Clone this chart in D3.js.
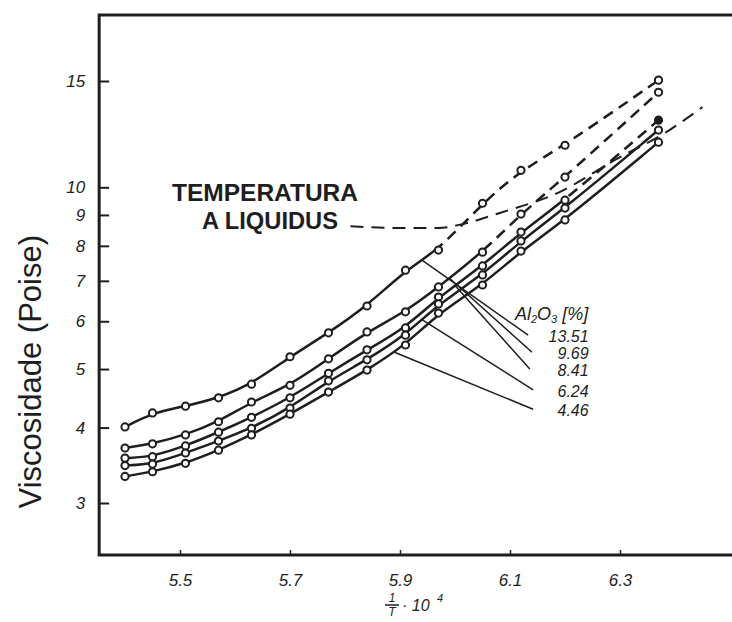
<!DOCTYPE html>
<html>
<head>
<meta charset="utf-8">
<script src="https://cdn.jsdelivr.net/npm/d3@7"></script>
<style>
  body { margin: 0; background: #fff; }
  text { font-family: "Liberation Sans", Arial, sans-serif; fill: #1e1e1e; }
</style>
</head>
<body>
<div id="chart"></div>
<script>
// 1/T * 10^4 for the measured points
const invT = [5.40, 5.45, 5.51, 5.57, 5.63, 5.70, 5.77, 5.84, 5.91, 5.97, 6.05, 6.12, 6.20, 6.37];

// viscosity (Poise), one array per Al2O3 content
const visc1351 = [4.01, 4.23, 4.34, 4.48, 4.72, 5.24, 5.74, 6.36, 7.29, 7.87, 9.41, 10.67, 11.74, 15.05];
const visc969  = [3.70, 3.76, 3.89, 4.09, 4.41, 4.70, 5.20, 5.76, 6.22, 6.84, 7.81, 9.03, 10.40, 14.37];
const visc841  = [3.56, 3.58, 3.73, 3.93, 4.16, 4.48, 4.92, 5.38, 5.85, 6.58, 7.41, 8.43, 9.52, 12.92];
const visc624  = [3.46, 3.48, 3.63, 3.80, 3.99, 4.31, 4.78, 5.18, 5.69, 6.41, 7.16, 8.15, 9.24, 12.44];
const visc446  = [3.32, 3.38, 3.49, 3.67, 3.89, 4.21, 4.58, 4.98, 5.48, 6.19, 6.89, 7.84, 8.83, 11.88];

const aluminaLabels = ['13.51', '9.69', '8.41', '6.24', '4.46'];
const seriesValues = [visc1351, visc969, visc841, visc624, visc446];
// from which 1/T the extrapolated part is dashed (null = all solid)
const dashFrom = [5.97, 6.05, 6.20, null, null];

// liquidus temperature line
const liquidusX = [5.81, 5.90, 5.97, 6.02, 6.08, 6.19, 6.29, 6.39, 6.45];
const liquidusY = [8.62, 8.56, 8.56, 8.72, 9.06, 9.82, 11.09, 12.44, 13.58];

// leader lines: start on curve at 1/T, end near the label
const leaderFromX = [5.94, 5.99, 6.00, 5.94, 5.89];
const leaderToX = [6.133, 6.140, 6.136, 6.142, 6.142];
const leaderToY = [5.69, 5.33, 5.00, 4.62, 4.29];

const xTicks = [5.5, 5.7, 5.9, 6.1, 6.3];
const yTicks = [3, 4, 5, 6, 7, 8, 9, 10, 15];

const width = 732, height = 622;
const ink = '#1e1e1e';

const x = d3.scaleLinear().domain([5.5, 6.3]).range([180, 620]);
const y = d3.scaleLog().domain([3, 15]).range([503, 81]);

// frame limits in data units
const xMin = 5.353, xMax = 6.53;
const yMin = 2.46, yMax = 19.3;

const svg = d3.select('#chart')
  .append('svg')
  .attr('width', width)
  .attr('height', height)
  .attr('viewBox', `0 0 ${width} ${height}`);

const defs = svg.append('defs');

// frame: left axis, top and bottom lines (right side runs off the page)
svg.append('path')
  .attr('fill', 'none')
  .attr('stroke', ink)
  .attr('stroke-width', 3)
  .attr('d', `M${x(xMax)},${y(yMax)}H${x(xMin)}V${y(yMin)}H${x(xMax)}`);

// Y axis ticks + labels
const yAxis = svg.append('g')
  .attr('transform', `translate(${x(xMin)},0)`)
  .call(d3.axisLeft(y).tickValues(yTicks).tickFormat(d3.format('d')).tickSize(-10).tickPadding(14));
yAxis.select('.domain').remove();
yAxis.selectAll('line').attr('stroke', ink).attr('stroke-width', 2);
yAxis.selectAll('text')
  .attr('font-size', 17)
  .attr('font-style', 'italic')
  .attr('fill', ink);

// X axis ticks + labels
const xAxis = svg.append('g')
  .attr('transform', `translate(0,${y(yMin)})`)
  .call(d3.axisBottom(x).tickValues(xTicks).tickFormat(d3.format('.1f')).tickSize(-5).tickPadding(19));
xAxis.select('.domain').remove();
xAxis.selectAll('line').attr('stroke', ink).attr('stroke-width', 1.5);
xAxis.selectAll('text')
  .attr('font-size', 17)
  .attr('font-style', 'italic')
  .attr('fill', ink);

// axis titles
svg.append('text')
  .attr('transform', `translate(41,${y(4.95)}) rotate(-90)`)
  .attr('text-anchor', 'middle')
  .attr('font-size', 31)
  .text('Viscosidade (Poise)');

const xt = svg.append('g').attr('font-style', 'italic');
xt.append('text').attr('x', 392).attr('y', 602).attr('font-size', 12).attr('text-anchor', 'middle').text('1');
xt.append('line').attr('x1', 385).attr('x2', 399).attr('y1', 605).attr('y2', 605).attr('stroke', ink).attr('stroke-width', 1.5);
xt.append('text').attr('x', 392).attr('y', 616).attr('font-size', 12).attr('text-anchor', 'middle').text('T');
xt.append('text').attr('x', 402).attr('y', 611).attr('font-size', 16).text('· 10');
xt.append('text').attr('x', 437).attr('y', 602).attr('font-size', 11).text('4');

// curves (smoothed fit through the measurements)
const line = d3.line()
  .x(d => x(d[0]))
  .y(d => y(d[1]))
  .curve(d3.curveBasis);

seriesValues.forEach((vals, i) => {
  const pts = invT.map((t, k) => [t, vals[k]]);
  const cut = dashFrom[i];
  if (cut === null) {
    svg.append('path')
      .datum(pts)
      .attr('fill', 'none')
      .attr('stroke', ink)
      .attr('stroke-width', 2.5)
      .attr('d', line);
  } else {
    defs.append('clipPath').attr('id', `solid-${i}`)
      .append('rect').attr('x', 0).attr('y', 0).attr('width', x(cut)).attr('height', height);
    defs.append('clipPath').attr('id', `dash-${i}`)
      .append('rect').attr('x', x(cut)).attr('y', 0).attr('width', width).attr('height', height);
    svg.append('path')
      .datum(pts)
      .attr('clip-path', `url(#solid-${i})`)
      .attr('fill', 'none')
      .attr('stroke', ink)
      .attr('stroke-width', 2.5)
      .attr('d', line);
    svg.append('path')
      .datum(pts)
      .attr('clip-path', `url(#dash-${i})`)
      .attr('fill', 'none')
      .attr('stroke', ink)
      .attr('stroke-width', 2.5)
      .attr('stroke-dasharray', '11,7')
      .attr('d', line);
  }
});

// liquidus line
svg.append('path')
  .datum(liquidusX.map((t, k) => [t, liquidusY[k]]))
  .attr('fill', 'none')
  .attr('stroke', ink)
  .attr('stroke-width', 2)
  .attr('stroke-dasharray', '13,8')
  .attr('d', d3.line().x(d => x(d[0])).y(d => y(d[1])).curve(d3.curveMonotoneX));

svg.append('text')
  .attr('x', 172).attr('y', 201)
  .attr('font-size', 23).attr('font-weight', 'bold')
  .attr('textLength', 186).attr('lengthAdjust', 'spacingAndGlyphs')
  .text('TEMPERATURA');
svg.append('text')
  .attr('x', 202).attr('y', 229)
  .attr('font-size', 23).attr('font-weight', 'bold')
  .attr('textLength', 136).attr('lengthAdjust', 'spacingAndGlyphs')
  .text('A LIQUIDUS');

// markers
seriesValues.forEach((vals, i) => {
  svg.append('g')
    .selectAll('circle')
    .data(invT.map((t, k) => [t, vals[k]]))
    .join('circle')
    .attr('cx', d => x(d[0]))
    .attr('cy', d => y(d[1]))
    .attr('r', 3.6)
    .attr('fill', (d, k) => (i === 2 && k === invT.length - 1) ? ink : '#fff')
    .attr('stroke', ink)
    .attr('stroke-width', 2);
});

// leader lines to the Al2O3 labels
function valueAt(vals, t) {
  const k = Math.max(0, d3.bisectRight(invT, t) - 1);
  const f = (t - invT[k]) / (invT[k + 1] - invT[k]);
  return Math.exp(Math.log(vals[k]) + f * (Math.log(vals[k + 1]) - Math.log(vals[k])));
}

const labelRight = 6.243;
aluminaLabels.forEach((lab, i) => {
  svg.append('line')
    .attr('x1', x(leaderFromX[i]))
    .attr('y1', y(valueAt(seriesValues[i], leaderFromX[i])))
    .attr('x2', x(leaderToX[i]))
    .attr('y2', y(leaderToY[i]))
    .attr('stroke', ink)
    .attr('stroke-width', 1.5);
  svg.append('text')
    .attr('x', x(labelRight))
    .attr('y', y(leaderToY[i]) + 7)
    .attr('text-anchor', 'end')
    .attr('font-size', 16)
    .attr('font-style', 'italic')
    .text(lab);
});

const head = svg.append('text')
  .attr('x', x(6.109))
  .attr('y', y(6.02))
  .attr('font-size', 18)
  .attr('font-style', 'italic');
head.append('tspan').text('Al');
head.append('tspan').attr('font-size', 11).attr('dy', 3).text('2');
head.append('tspan').attr('dy', -3).text('O');
head.append('tspan').attr('font-size', 11).attr('dy', 3).text('3');
head.append('tspan').attr('dy', -3).text(' [%]');
</script>
</body>
</html>
